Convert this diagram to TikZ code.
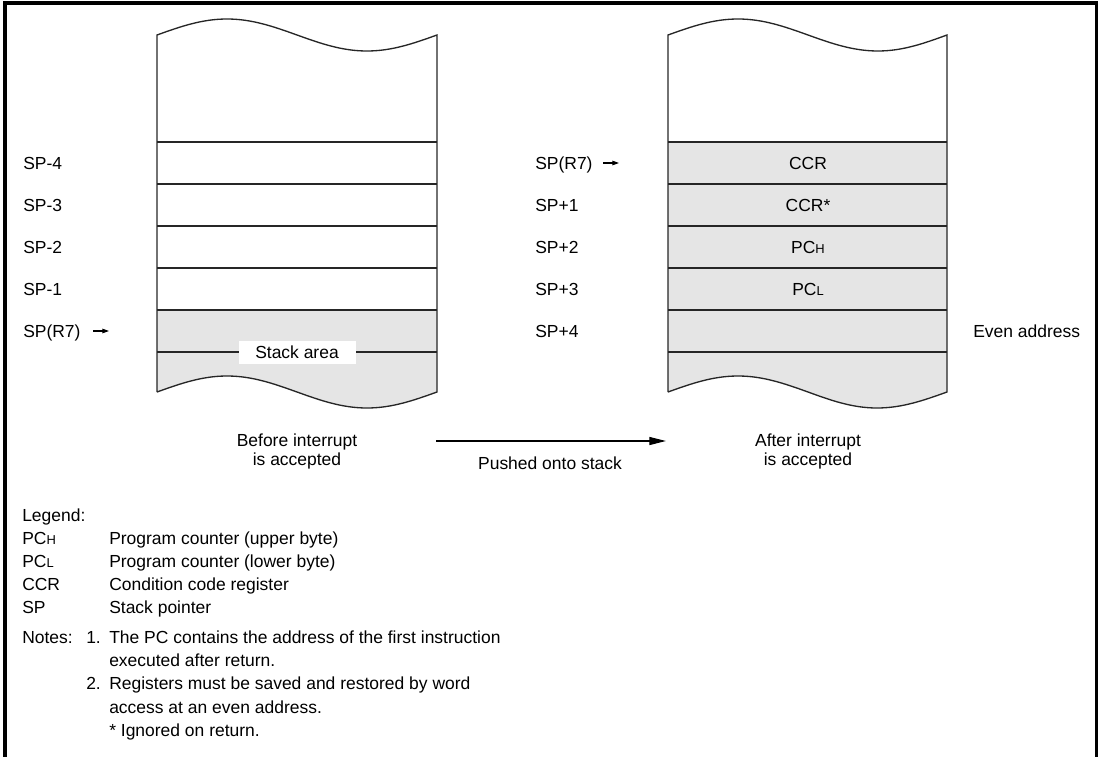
\documentclass[tikz,border=0pt]{standalone}
\usepackage{fontspec}
\setmainfont{Liberation Sans}
\usetikzlibrary{arrows.meta}
\definecolor{stackgray}{RGB}{229,229,229}
\newcommand\lowsub[1]{{\fontsize{9.7}{10}\selectfont #1}}
\begin{document}
\begin{tikzpicture}[x=0.75pt,y=-0.75pt,
  txt/.style={inner sep=0pt, font=\fontsize{13.1}{16}\selectfont},
  lbl/.style={txt, anchor=base west},
  cell/.style={txt, anchor=base},
  stackline/.style={line width=1pt, draw=black!85},
  smallarr/.style={line width=0.8pt, -{Triangle[length=5pt,width=3.4pt]}},
  bigarr/.style={line width=0.9pt, -{Triangle[length=12.5pt,width=6pt]}},
  frame/.style={line width=2.3pt}]
\useasboundingbox (0,0) rectangle (1098,756);
% outer frame
\draw[frame] (5,775) -- (5,3) -- (1097,3) -- (1097,775);

% ---------- left stack ----------
\fill[stackgray] (157,310) -- (437,310) -- (437,392) sin (367,408) cos (297,392) sin (227,376) cos (157,392) -- cycle;
\foreach \yy in {142,184,226,268,310,352}
  \draw[stackline] (157,\yy) -- (437,\yy);
\node[txt, fill=white, minimum width=87.75pt, minimum height=17.25pt] (stackarea) at (297,352) {Stack area};
\draw[stackline] (157,392) -- (157,35) sin (227,19) cos (297,35) sin (367,51) cos (437,35) -- (437,392) sin (367,408) cos (297,392) sin (227,376) cos (157,392);

% ---------- right stack ----------
\fill[stackgray] (668,142) -- (947,142) -- (947,392) sin (877,408) cos (808,392) sin (738,376) cos (668,392) -- cycle;
\foreach \yy in {142,184,226,268,310,352}
  \draw[stackline] (668,\yy) -- (947,\yy);
\draw[stackline] (668,392) -- (668,35) sin (738,19) cos (808,35) sin (878,51) cos (947,35) -- (947,392) sin (877,408) cos (808,392) sin (738,376) cos (668,392);

% cell contents
\node[cell] (ccr)  at (808,169) {CCR};
\node[cell] (ccrs) at (808,211) {CCR*};
\node[cell] (pch)  at (808,253) {PC\lowsub{H}};
\node[cell] (pcl)  at (808,295) {PC\lowsub{L}};

% left labels
\node[lbl] (l4) at (23,169) {SP-4};
\node[lbl] (l3) at (23,211) {SP-3};
\node[lbl] (l2) at (23,253) {SP-2};
\node[lbl] (l1) at (23,295) {SP-1};
\node[lbl] (l0) at (23,337) {SP(R7)};
\coordinate (la0) at (93,331);
\coordinate (la1) at (109,331);
\draw[smallarr] (la0) -- (la1);

% right labels
\node[lbl] (r0) at (535,169) {SP(R7)};
\node[lbl] (r1) at (535,211) {SP+1};
\node[lbl] (r2) at (535,253) {SP+2};
\node[lbl] (r3) at (535,295) {SP+3};
\node[lbl] (r4) at (535,337) {SP+4};
\coordinate (ra0) at (603,163);
\coordinate (ra1) at (619,163);
\draw[smallarr] (ra0) -- (ra1);
\node[lbl] (even) at (973,337) {Even address};

% captions
\node[cell] (before1) at (297,446) {Before interrupt};
\node[cell] (before2) at (297,465) {is accepted};
\node[cell] (after1) at (808,446) {After interrupt};
\node[cell] (after2) at (808,465) {is accepted};
\node[cell] (pushed) at (550,469) {Pushed onto stack};
\coordinate (pa0) at (436,441);
\coordinate (pa1) at (666,441);
\draw[bigarr] (pa0) -- (pa1);

% legend
\node[lbl] (leg) at (22,521) {Legend:};
\node[lbl] (k1) at (22,544) {PC\lowsub{H}};
\node[lbl] (d1) at (109,544) {Program counter (upper byte)};
\node[lbl] (k2) at (22,567) {PC\lowsub{L}};
\node[lbl] (d2) at (109,567) {Program counter (lower byte)};
\node[lbl] (k3) at (22,590) {CCR};
\node[lbl] (d3) at (109,590) {Condition code register};
\node[lbl] (k4) at (22,613) {SP};
\node[lbl] (d4) at (109,613) {Stack pointer};

% notes
\node[lbl] (notes) at (22,643) {Notes:};
\node[lbl] (n1) at (86,643) {1.};
\node[lbl] (n1a) at (109,643) {The PC contains the address of the first instruction};
\node[lbl] (n1b) at (109,666) {executed after return.};
\node[lbl] (n2) at (86,689) {2.};
\node[lbl] (n2a) at (109,689) {Registers must be saved and restored by word};
\node[lbl] (n2b) at (109,713) {access at an even address.};
\node[lbl] (n3) at (109,736) {* Ignored on return.};
\end{tikzpicture}
\end{document}
